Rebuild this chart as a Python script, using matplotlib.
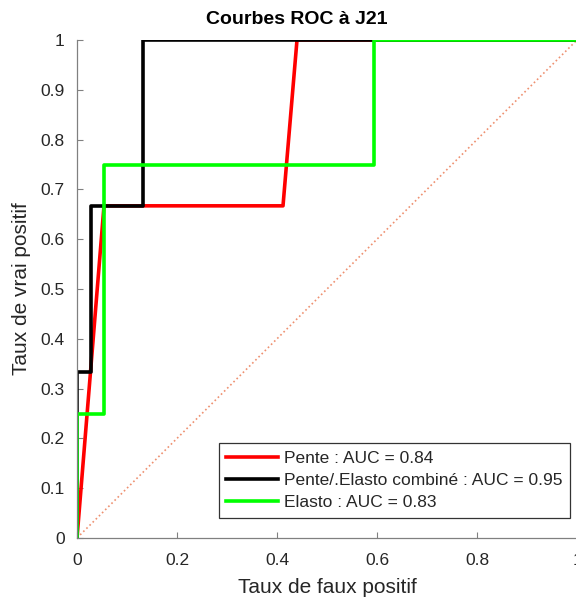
import matplotlib
matplotlib.use("Agg")
import matplotlib.pyplot as plt

plt.rcParams['font.family'] = ['Liberation Sans', 'DejaVu Sans']

pente_x = [0, 0.054, 0.412, 0.44, 1]
pente_y = [0, 0.667, 0.667, 1, 1]
comb_x = [0, 0, 0.028, 0.028, 0.132, 0.132, 1]
comb_y = [0, 0.333, 0.333, 0.667, 0.667, 1, 1]
elasto_x = [0, 0, 0.054, 0.054, 0.594, 0.594, 1]
elasto_y = [0, 0.25, 0.25, 0.75, 0.75, 1, 1]
labels = ["Pente : AUC = 0.84", "Pente/.Elasto combiné : AUC = 0.95", "Elasto : AUC = 0.83"]

fig = plt.figure(figsize=(5.76, 5.98), dpi=100)
ax = fig.add_axes([77/576, 1-538/598, 500/576, 498/598])
ax.plot([0, 1], [0, 1], linestyle=':', color='#EE9070', linewidth=1.2)
ax.plot(pente_x, pente_y, color='#FF0000', linewidth=2.6, label=labels[0])
ax.plot(comb_x, comb_y, color='#000000', linewidth=2.6, label=labels[1])
ax.plot(elasto_x, elasto_y, color='#00FF00', linewidth=2.6, label=labels[2])

ax.set_xlim(0, 1)
ax.set_ylim(0, 1)
ax.set_xticks([0, 0.2, 0.4, 0.6, 0.8, 1])
ax.set_xticklabels(["0", "0.2", "0.4", "0.6", "0.8", "1"])
ax.set_yticks([i/10 for i in range(11)])
ax.set_yticklabels(["0"] + ["0.%d" % i for i in range(1, 10)] + ["1"])
for s in ['top', 'right']:
    ax.spines[s].set_visible(False)
for s in ['left', 'bottom']:
    ax.spines[s].set_color('#808080')
    ax.spines[s].set_linewidth(0.9)
ax.tick_params(direction='in', length=4, color='#808080', labelsize=12.5, labelcolor='#262626')
ax.tick_params(axis='x', pad=11)
ax.tick_params(axis='y', pad=9)
ax.set_xlabel("Taux de faux positif", fontsize=15, color='#262626', labelpad=7)
ax.set_ylabel("Taux de vrai positif", fontsize=15, color='#262626', labelpad=7)
ax.text(0.44, 1.0 + 20/498, "Courbes ROC à J21", transform=ax.transAxes,
        fontsize=14, fontweight='bold', ha='center', va='center')

leg = ax.legend(loc='lower right', bbox_to_anchor=(0.986, 0.04), fontsize=12.5,
                frameon=True, fancybox=False, edgecolor='#333333', framealpha=1,
                handlelength=3.0, handletextpad=0.3, borderpad=0.45, labelspacing=0.4,
                borderaxespad=0)
leg.get_frame().set_linewidth(0.9)
for t in leg.get_texts():
    t.set_color('#262626')

fig.savefig("out.png", dpi=100)
